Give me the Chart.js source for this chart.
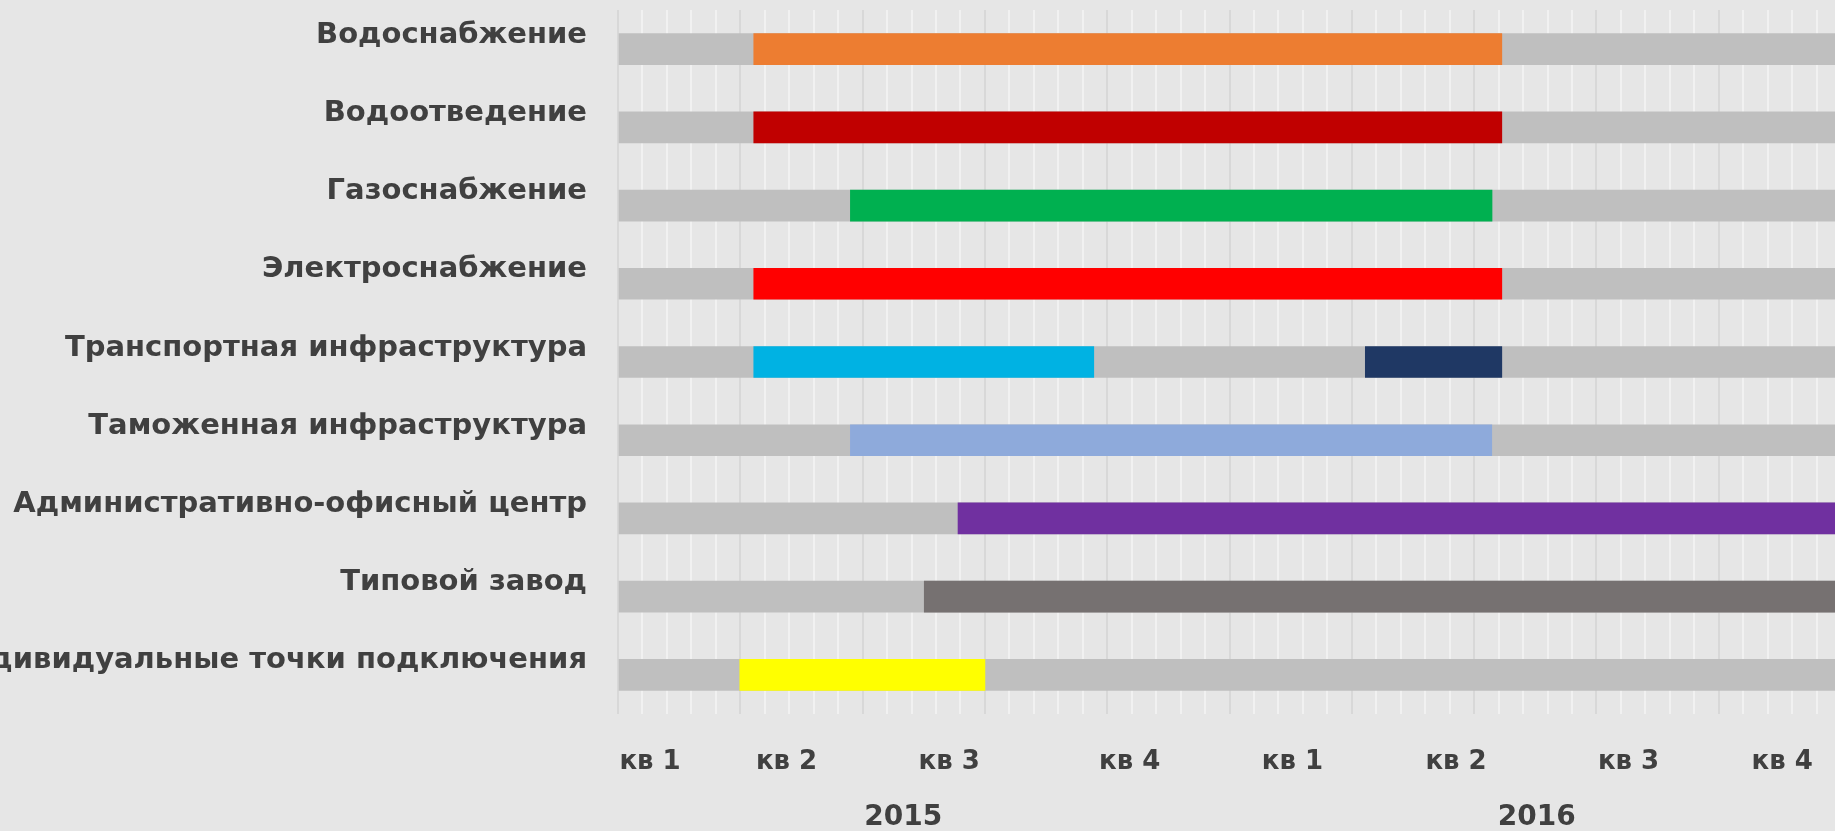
<!DOCTYPE html>
<html>
<head>
<meta charset="utf-8">
<script src="https://cdn.jsdelivr.net/npm/chart.js@4.4.1/dist/chart.umd.min.js"></script>
<style>
  html, body { margin: 0; padding: 0; background: #e6e6e6; overflow: hidden; }
  #wrap { position: absolute; left: 0; top: 0; width: 1846px; height: 831px; }
</style>
</head>
<body>
<div id="wrap"><canvas id="gantt"></canvas></div>
<script>
// Rows of the schedule
const categories = [
  "Водоснабжение",
  "Водоотведение",
  "Газоснабжение",
  "Электроснабжение",
  "Транспортная инфраструктура",
  "Таможенная инфраструктура",
  "Административно-офисный центр",
  "Типовой завод",
  "Индивидуальные точки подключения"
];

// Main work period per row (axis units)
const workStart = [5.55, 5.55, 9.5, 5.55, 5.55, 9.5, 13.9, 12.52, 4.98];
const workEnd   = [36.13, 36.13, 35.73, 36.13, 19.45, 35.72, 50, 50, 15.0];
// Second period, only for the transport row
const extraStart = [null, null, null, null, 30.55, null, null, null, null];
const extraEnd   = [null, null, null, null, 36.13, null, null, null, null];

const axisMax = 50;

// Tick labels under the axis
const quarterLabels = ["кв 1", "кв 2", "кв 3", "кв 4", "кв 1", "кв 2", "кв 3", "кв 4"];
const quarterPos = [1.31, 6.89, 13.54, 20.92, 27.57, 34.26, 41.31, 47.59];
const yearLabels = ["2015", "2016"];
const yearPos = [11.66, 37.56];

const workColors = ["#ED7D31", "#C00000", "#00B050", "#FF0000", "#00B2E3", "#8EAADB", "#7030A0", "#767171", "#FFFF00"];

const textColor = "#404040";
const font = "'DejaVu Sans', sans-serif";

new Chart(document.getElementById("gantt"), {
  type: "bar",
  data: {
    labels: categories,
    datasets: [
      {
        data: workStart.map((s, i) => [s, workEnd[i]]),
        backgroundColor: workColors,
        grouped: false,
        barThickness: 31
      },
      {
        data: extraStart.map((s, i) => (s === null ? null : [s, extraEnd[i]])),
        backgroundColor: "#1F3864",
        grouped: false,
        barThickness: 31
      },
      {
        data: categories.map(() => [0, axisMax]),
        backgroundColor: "#BFBFBF",
        grouped: false,
        barThickness: 31
      }
    ]
  },
  options: {
    indexAxis: "y",
    responsive: true,
    maintainAspectRatio: false,
    animation: false,
    layout: { padding: { top: 10, left: 0, right: 0, bottom: 0 } },
    plugins: {
      legend: { display: false },
      tooltip: { enabled: false }
    },
    scales: {
      y: {
        grid: { display: false, drawTicks: false },
        border: { display: false },
        ticks: {
          color: textColor,
          font: { family: font, size: 29, weight: "bold" },
          padding: 31,
          labelOffset: -14,
          autoSkip: false
        },
        afterFit: (scale) => {
          scale.width = 618;
          scale.paddingTop = 0;
          scale.paddingBottom = 0;
        }
      },
      x: {
        type: "linear",
        min: 0,
        max: axisMax,
        weight: 0,
        grid: {
          drawTicks: false,
          lineWidth: 2,
          color: (ctx) => (ctx.tick && ctx.tick.value % 5 === 0 ? "#d8d8d8" : "#f1f1f1")
        },
        border: { display: false },
        ticks: { display: false },
        afterBuildTicks: (scale) => {
          scale.ticks = [];
          for (let v = 0; v <= axisMax; v++) scale.ticks.push({ value: v });
        },
        afterFit: (scale) => { scale.height = 0; }
      },
      quarters: {
        type: "linear",
        axis: "x",
        position: "bottom",
        min: 0,
        max: axisMax,
        weight: 1,
        grid: { display: false, drawTicks: false },
        border: { display: false },
        ticks: {
          color: textColor,
          font: { family: font, size: 26, weight: "bold" },
          padding: 33,
          autoSkip: false,
          maxRotation: 0,
          callback: (value, index) => quarterLabels[index]
        },
        afterBuildTicks: (scale) => {
          scale.ticks = quarterPos.map((v) => ({ value: v }));
        },
        afterFit: (scale) => { scale.height = 70; }
      },
      years: {
        type: "linear",
        axis: "x",
        position: "bottom",
        min: 0,
        max: axisMax,
        weight: 2,
        grid: { display: false, drawTicks: false },
        border: { display: false },
        ticks: {
          color: textColor,
          font: { family: font, size: 28, weight: "bold" },
          padding: 17,
          autoSkip: false,
          maxRotation: 0,
          callback: (value, index) => yearLabels[index]
        },
        afterBuildTicks: (scale) => {
          scale.ticks = yearPos.map((v) => ({ value: v }));
        },
        afterFit: (scale) => { scale.height = 47; }
      }
    }
  }
});
</script>
</body>
</html>
